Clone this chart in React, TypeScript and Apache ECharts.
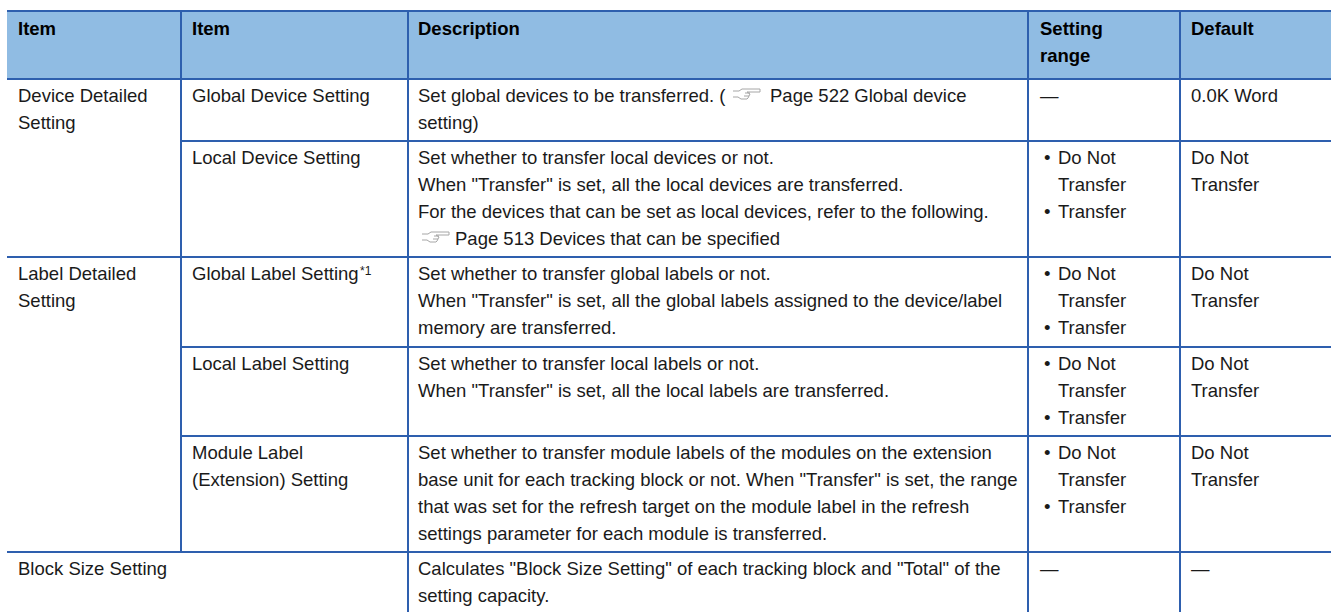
import React, { useEffect, useRef } from "react";
import * as echarts from "echarts";

const FONT = '"Liberation Sans", Arial, sans-serif';
const headerTexts = ["Item", "Item", "Description", "Setting\nrange", "Default"];
const columnLines = [181, 408, 1028, 1180];
const rowLines = [79, 141, 257, 347, 436, 552];
const colX = [18, 192, 418, 1040, 1191];

const rowsCol0 = [
  { row: 0, text: "Device Detailed\nSetting" },
  { row: 2, text: "Label Detailed\nSetting" },
  { row: 5, text: "Block Size Setting" },
];
const rowsCol1 = [
  "Global Device Setting",
  "Local Device Setting",
  "Global Label Setting",
  "Local Label Setting",
  "Module Label\n(Extension) Setting",
];
const rowsDesc = [
  "Set global devices to be transferred. (\nsetting)",
  'Set whether to transfer local devices or not.\nWhen "Transfer" is set, all the local devices are transferred.\nFor the devices that can be set as local devices, refer to the following.',
  'Set whether to transfer global labels or not.\nWhen "Transfer" is set, all the global labels assigned to the device/label\nmemory are transferred.',
  'Set whether to transfer local labels or not.\nWhen "Transfer" is set, all the local labels are transferred.',
  'Set whether to transfer module labels of the modules on the extension\nbase unit for each tracking block or not. When "Transfer" is set, the range\nthat was set for the refresh target on the module label in the refresh\nsettings parameter for each module is transferred.',
  'Calculates "Block Size Setting" of each tracking block and "Total" of the\nsetting capacity.',
];
const pageRef1 = "Page 522 Global device";
const pageRef2 = "Page 513 Devices that can be specified";
const bulletText = "Do Not\nTransfer\nTransfer";
const bulletRows = [1, 2, 3, 4];
const dashRows = [0, 5];
const rowsDefault = ["0.0K Word", "Do Not\nTransfer", "Do Not\nTransfer", "Do Not\nTransfer", "Do Not\nTransfer", "—"];

const LINE = "#2e5fae";
const HEAD = "#90bce3";
const INK = "#1a1a1a";
const LH = 27;
const SIZE = 18.5;

function textEl(x: number, y: number, text: string, bold = false, size = SIZE) {
  return {
    type: "text",
    x,
    y,
    style: {
      text,
      fill: bold ? "#000" : INK,
      font: `${bold ? "bold " : ""}${size}px ${FONT}`,
      lineHeight: LH,
      verticalAlign: "top",
      align: "left",
    },
  };
}

function hand(x: number, y: number) {
  const style = { stroke: "#a6a6a6", lineWidth: 1, fill: "none" };
  return {
    type: "group",
    x,
    y,
    silent: true,
    children: [
      {
        type: "polyline",
        shape: {
          points: [[0, 2], [6, 2], [9, 0], [27, 0], [27, 3], [14, 3], [17, 5], [15, 9], [14, 10], [8, 10], [5, 8], [0, 8]],
        },
        style,
      },
      { type: "polyline", shape: { points: [[12, 4], [17, 4]] }, style },
      { type: "polyline", shape: { points: [[11, 7], [16, 7]] }, style },
    ],
  };
}

function buildGraphic() {
  const els: any[] = [];
  els.push({ type: "rect", shape: { x: 7, y: 11, width: 1324, height: 68 }, style: { fill: HEAD } });
  const lineEl = (x1: number, y1: number, x2: number, y2: number) => ({
    type: "line",
    shape: { x1, y1, x2, y2 },
    style: { stroke: LINE, lineWidth: 2 },
  });
  els.push(lineEl(7, 11, 1331, 11));
  rowLines.forEach((y, i) => {
    const startX = i === 1 || i === 3 || i === 4 ? columnLines[0] : 7;
    els.push(lineEl(startX, y, 1331, y));
  });
  columnLines.forEach((x, i) => {
    els.push(lineEl(x, 11, x, i === 0 ? 552 : 612));
  });
  headerTexts.forEach((t, i) => {
    els.push(textEl(colX[i], 15, t, true));
  });
  const textTop = (row: number) => rowLines[row] + 3;
  rowsCol0.forEach((r) => els.push(textEl(colX[0], textTop(r.row), r.text)));
  rowsCol1.forEach((t, i) => els.push(textEl(colX[1], textTop(i), t)));
  els.push(textEl(360, textTop(2) - 3, "*1", false, 12));
  rowsDesc.forEach((t, i) => els.push(textEl(colX[2], textTop(i), t)));
  els.push(textEl(770, textTop(0), pageRef1));
  els.push(textEl(455, textTop(1) + 3 * LH, pageRef2));
  dashRows.forEach((r) => els.push(textEl(colX[3], textTop(r), "—")));
  bulletRows.forEach((r) => {
    els.push(textEl(1058, textTop(r), bulletText));
    els.push(textEl(1044, textTop(r), "•\n\n•"));
  });
  rowsDefault.forEach((t, i) => els.push(textEl(colX[4], textTop(i), t)));
  els.push(hand(733, 89));
  els.push(hand(422, 232));
  return els;
}

export default function App() {
  const ref = useRef<HTMLDivElement>(null);
  useEffect(() => {
    const chart = echarts.init(ref.current!, undefined, { renderer: "svg" });
    chart.setOption({ animation: false, backgroundColor: "#fff", graphic: { elements: buildGraphic() } });
    return () => chart.dispose();
  }, []);
  return <div ref={ref} style={{ position: "fixed", left: 0, top: 0, width: 1331, height: 612 }} />;
}
